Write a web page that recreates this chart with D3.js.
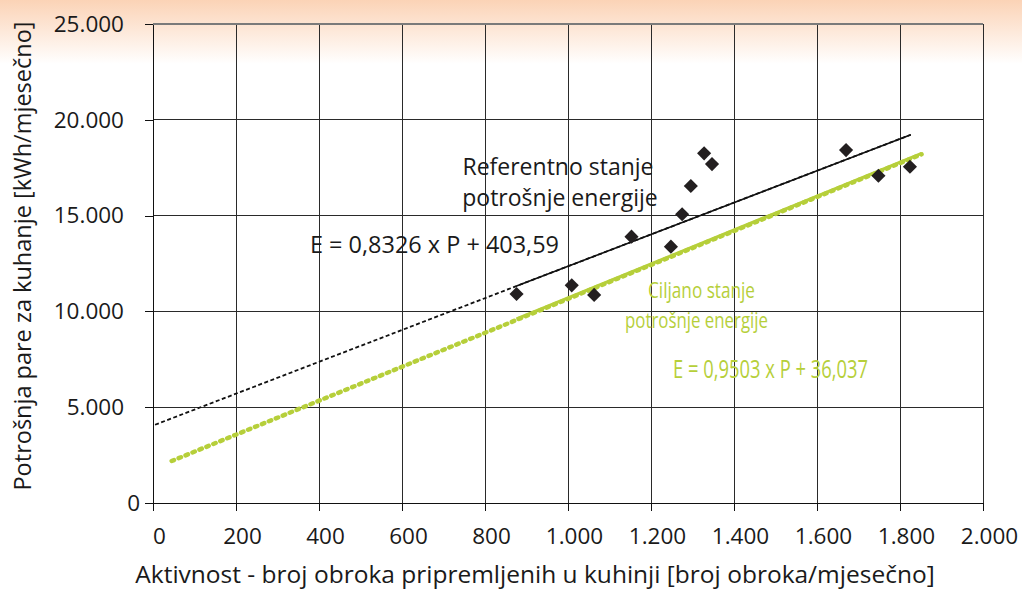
<!DOCTYPE html>
<html>
<head>
	<meta charset="utf-8">
	<title>potrosnja pare</title>
	<style>
		body{ margin:0; }
		text{ font-family: "Open Sans", sans-serif; fill:#1a1a1a; }
		.grid line{ stroke:#2a2a2a; stroke-width:1; shape-rendering:crispEdges; }
		.axis path, .axis line{ stroke:#111; shape-rendering:crispEdges; }
		.axis text{ font-size:22.5px; }
		.green{ fill:#b6cf3a; }
	</style>
	<script src="https://d3js.org/d3.v7.min.js"></script>
</head>
<body>
<svg width="1022" height="592"></svg>
<script>

	// data
	var meals = [876, 1009, 1063, 1153, 1248, 1275, 1296, 1328, 1347, 1670, 1748, 1824],
	    steam = [10910, 11360, 10860, 13900, 13380, 15070, 16545, 18250, 17690, 18420, 17080, 17550];

	// trend lines (end points as drawn)
	var refX = [5, 1826],    refY = [4085, 19220],
	    targetX = [45, 1852], targetY = [2192, 18200];

	var xTicks = [0, 200, 400, 600, 800, 1000, 1200, 1400, 1600, 1800, 2000],
	    yTicks = [0, 5000, 10000, 15000, 20000, 25000];

	var svg = d3.select("svg");

	var fmt = d3.formatLocale({decimal: ",", thousands: ".", grouping: [3], currency: ["", ""]}).format(",d");

	var x = d3.scaleLinear().domain([0, 2000]).range([153, 983]),
	    y = d3.scaleLinear().domain([0, 25000]).range([503, 24]);

	// peach band at the top
	var grad = svg.append("defs").append("linearGradient")
	    .attr("id", "bg").attr("x1", 0).attr("y1", 0).attr("x2", 0).attr("y2", 1);
	grad.append("stop").attr("offset", "0%").attr("stop-color", "#fbd3b6");
	grad.append("stop").attr("offset", "100%").attr("stop-color", "#ffffff");
	svg.append("rect").attr("width", 1022).attr("height", 64).attr("fill", "url(#bg)");

	// grid
	var grid = svg.append("g").attr("class", "grid");
	grid.selectAll(".v").data(xTicks.slice(1)).enter().append("line")
	    .attr("x1", function(d){ return x(d); }).attr("x2", function(d){ return x(d); })
	    .attr("y1", y(25000)).attr("y2", y(0));
	grid.selectAll(".h").data(yTicks.slice(1)).enter().append("line")
	    .attr("x1", x(0)).attr("x2", x(2000))
	    .attr("y1", function(d){ return y(d); }).attr("y2", function(d){ return y(d); });
	svg.append("line").attr("x1", x(0)).attr("x2", x(2000)).attr("y1", y(25000)).attr("y2", y(25000))
	    .attr("stroke", "#7a7a7a").attr("stroke-width", 2);

	// axes
	svg.append("g").attr("class", "axis axis--x")
	    .attr("transform", "translate(0," + y(0) + ")")
	    .call(d3.axisBottom(x).tickValues(xTicks).tickFormat(fmt).tickSize(8).tickSizeOuter(0).tickPadding(17))
	    .selectAll("text").attr("dx", 6);

	svg.append("g").attr("class", "axis axis--y")
	    .attr("transform", "translate(" + x(0) + ",0)")
	    .call(d3.axisLeft(y).tickValues(yTicks).tickFormat(fmt).tickSize(8).tickSizeOuter(0).tickPadding(21))
	    .selectAll("text").attr("dx", function(d){ return d === 0 ? 16 : 0; });

	// trend lines
	var line = d3.line().x(function(d){ return x(d[0]); }).y(function(d){ return y(d[1]); });
	var refPts = d3.zip(refX, refY),
	    targetPts = d3.zip(targetX, targetY);
	function at(pts, v){
		var t = (v - pts[0][0]) / (pts[1][0] - pts[0][0]);
		return [v, pts[0][1] + t * (pts[1][1] - pts[0][1])];
	}
	var lo = d3.min(meals);

	svg.append("path").datum(targetPts).attr("d", line)
	    .attr("fill", "none").attr("stroke", "#b6cf3a").attr("stroke-width", 4.5)
	    .attr("stroke-linecap", "round").attr("stroke-dasharray", "2.5,5");
	svg.append("path").datum([at(targetPts, lo), targetPts[1]]).attr("d", line)
	    .attr("fill", "none").attr("stroke", "#b6cf3a").attr("stroke-width", 3)
	    .attr("transform", "translate(0,-1)");

	svg.append("path").datum(refPts).attr("d", line)
	    .attr("fill", "none").attr("stroke", "#111").attr("stroke-width", 1.8)
	    .attr("stroke-dasharray", "4,2.5");
	svg.append("path").datum([at(refPts, lo), refPts[1]]).attr("d", line)
	    .attr("fill", "none").attr("stroke", "#111").attr("stroke-width", 1.6);

	// points
	svg.selectAll(".pt").data(d3.zip(meals, steam)).enter().append("path")
	    .attr("class", "pt")
	    .attr("d", d3.symbol().type(d3.symbolSquare).size(100))
	    .attr("transform", function(d){ return "translate(" + x(d[0]) + "," + y(d[1]) + ") rotate(45)"; })
	    .attr("fill", "#231f20");

	// annotations
	svg.append("text").attr("x", 558).attr("y", 175).attr("text-anchor", "middle")
	    .style("font-size", "23px").text("Referentno stanje");
	svg.append("text").attr("x", 560).attr("y", 206).attr("text-anchor", "middle")
	    .style("font-size", "23px").text("potrošnje energije");
	svg.append("text").attr("x", 310).attr("y", 253)
	    .style("font-size", "23px").attr("textLength", 249).attr("lengthAdjust", "spacingAndGlyphs")
	    .text("E = 0,8326 x P + 403,59");

	svg.append("text").attr("class", "green").attr("x", 648).attr("y", 298)
	    .style("font-size", "22px").attr("textLength", 107).attr("lengthAdjust", "spacingAndGlyphs")
	    .text("Ciljano stanje");
	svg.append("text").attr("class", "green").attr("x", 625).attr("y", 328)
	    .style("font-size", "22px").attr("textLength", 143).attr("lengthAdjust", "spacingAndGlyphs")
	    .text("potrošnje energije");
	svg.append("text").attr("class", "green").attr("x", 673).attr("y", 378)
	    .style("font-size", "25px").attr("textLength", 195).attr("lengthAdjust", "spacingAndGlyphs")
	    .text("E = 0,9503 x P + 36,037");

	// axis titles
	svg.append("text").attr("x", 535).attr("y", 583).attr("text-anchor", "middle")
	    .style("font-size", "24.5px")
	    .text("Aktivnost - broj obroka pripremljenih u kuhinji [broj obroka/mjesečno]");
	svg.append("text").attr("transform", "translate(31,256) rotate(-90)").attr("text-anchor", "middle")
	    .style("font-size", "23.5px")
	    .text("Potrošnja pare za kuhanje [kWh/mjesečno]");

</script>
</body>
</html>
